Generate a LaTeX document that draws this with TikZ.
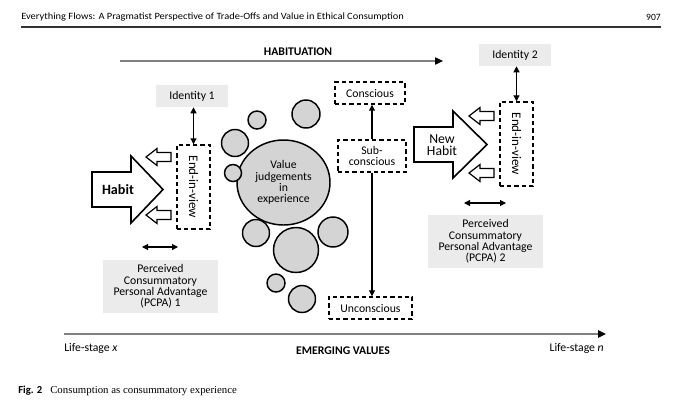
\documentclass[tikz,border=0pt]{standalone}
\usepackage{graphicx}
\usepackage{fontspec}
\setmainfont{Carlito}
\newfontfamily\serifcap{Liberation Serif}
\usetikzlibrary{arrows.meta,shapes.geometric}
\definecolor{boxgray}{HTML}{EBEBEB}
\definecolor{circgray}{HTML}{D4D4D4}
\definecolor{linegray}{HTML}{808080}
\begin{document}
\begin{tikzpicture}[x=0.75pt,y=-0.75pt,
  txt/.style={font=\fontsize{8.8}{8.4}\selectfont},
  graybox/.style={txt, fill=boxgray, draw=none, inner sep=0pt, align=center},
  dbox/.style={draw, line width=1.1pt, dash pattern=on 3.2pt off 2.2pt, inner sep=0pt, align=center, txt},
  dbl/.style={{Triangle[length=4.5pt,width=4.5pt]}-{Triangle[length=4.5pt,width=4.5pt]}, line width=0.8pt},
  oneway/.style={-{Triangle[length=4.5pt,width=4.5pt]}, line width=0.8pt},
  bigarrow/.style={draw, line width=1.2pt, fill=white, line join=miter},
  circ/.style={draw, line width=1.1pt, fill=circgray},
  axisline/.style={draw=linegray, line width=1.1pt, -{Triangle[length=6pt,width=5.5pt,color=black]}},
  smallarr/.pic={\draw[line width=0.9pt, fill=white, line join=miter] (0,0) -- (11,-8.5) -- (11,-4.5) -- (25,-4.5) -- (25,4.5) -- (11,4.5) -- (11,8.5) -- cycle;}
]
\useasboundingbox (0,0) rectangle (680,401);

% header
\node[anchor=west, inner sep=0pt] (head) at (21,17) {\resizebox{287pt}{\height}{\fontsize{7.2}{8}\selectfont Everything Flows: A Pragmatist Perspective of Trade-Offs and Value in Ethical Consumption}};
\node[anchor=east, inner sep=0pt] (page) at (661,17) {\fontsize{7.2}{8}\selectfont 907};
\coordinate (rulel) at (21,27);
\coordinate (ruler) at (661,27);
\draw[line width=1.1pt, draw=black!80] (rulel) -- (ruler);

% habituation
\node[font=\bfseries\fontsize{8.8}{9}\selectfont, inner sep=0pt] (hab) at (298,52) {HABITUATION};
\coordinate (hs) at (120,61);
\coordinate (he) at (443,61);
\draw[axisline, line width=0.9pt] (hs) -- (he);

% left side
\node[graybox, minimum width=54pt, minimum height=16.5pt] (id1) at (192,96) {Identity 1};
\node[dbox, minimum width=24.75pt, minimum height=63pt] (eiv1) at (193.5,187) {};
\node[rotate=-90, font=\fontsize{9.8}{10}\selectfont, inner sep=0pt] (eiv1t) at (eiv1.center) {End-in-view};
\draw[dbl] (eiv1.north) -- (eiv1.north |- id1.south);
\draw[bigarrow] (92,172) -- (131,172) -- (131,156) -- (163,189.5) -- (131,223) -- (131,207) -- (92,207) -- cycle;
\node[font=\bfseries\fontsize{10.6}{10}\selectfont, inner sep=0pt] (habit) at (118,189.5) {Habit};
\pic at (146,157) {smallarr};
\pic at (146,215) {smallarr};
\coordinate (l1) at (142,247);
\coordinate (l2) at (178,247);
\draw[dbl] (l1) -- (l2);
\node[graybox, minimum width=86.25pt, minimum height=39.75pt] (pcpa1) at (160.5,286.5) {Perceived\\Consummatory\\Personal Advantage\\(PCPA) 1};

% circles
\node[ellipse, circ, minimum width=69.75pt, minimum height=63.75pt, inner sep=0pt, align=center, txt] (vj) at (283.5,182.5) {Value\\judgements\\in\\experience};
\draw[circ] (306,114) circle[radius=14];
\draw[circ] (257,120) circle[radius=9];
\draw[circ] (235,143) circle[radius=13.5];
\draw[circ] (233,173) circle[radius=8.5];
\draw[circ] (256,233) circle[radius=13.5];
\draw[circ] (296,250) circle[radius=22.5];
\draw[circ] (333,232) circle[radius=15];
\draw[circ] (276,283) circle[radius=9];
\draw[circ] (302,299) circle[radius=13.5];

% consciousness
\node[dbox, minimum width=52.5pt, minimum height=16.5pt] (con) at (370,93) {Conscious};
\node[dbox, minimum width=51pt, minimum height=24pt] (sub) at (372,156) {Sub-\\conscious};
\node[dbox, minimum width=62.25pt, minimum height=16.5pt] (uncon) at (370.5,308) {Unconscious};
\draw[oneway] (sub.north) -- (sub.north |- con.south);
\draw[oneway] (sub.south) -- (sub.south |- uncon.north);

% right side
\node[graybox, minimum width=54pt, minimum height=16.5pt] (id2) at (515,55) {Identity 2};
\node[dbox, minimum width=24.75pt, minimum height=63pt] (eiv2) at (516.5,144) {};
\node[rotate=-90, font=\fontsize{9.8}{10}\selectfont, inner sep=0pt] (eiv2t) at (eiv2.center) {End-in-view};
\draw[dbl] (eiv2.north) -- (eiv2.north |- id2.south);
\draw[bigarrow] (414,127) -- (453,127) -- (453,111) -- (487,144.5) -- (453,178) -- (453,162) -- (414,162) -- cycle;
\node[align=center, font=\fontsize{10.3}{9.3}\selectfont, inner sep=0pt] (newhabit) at (442,145) {New\\Habit};
\pic at (469,116) {smallarr};
\pic at (469,173) {smallarr};
\coordinate (r1) at (464,203);
\coordinate (r2) at (506,203);
\draw[dbl] (r1) -- (r2);
\node[graybox, minimum width=86.25pt, minimum height=39.75pt] (pcpa2) at (485.5,241.5) {Perceived\\Consummatory\\Personal Advantage\\(PCPA) 2};

% axis
\coordinate (axs) at (64,334);
\coordinate (axe) at (606,334);
\draw[axisline] (axs) -- (axe);
\node[anchor=west, inner sep=0pt, txt] (lsx) at (64,348) {Life-stage \textit{x}};
\node[anchor=east, inner sep=0pt, txt] (lsn) at (604,348) {Life-stage \textit{n}};
\node[font=\bfseries\fontsize{8.8}{9}\selectfont, inner sep=0pt] (ev) at (343,351) {EMERGING VALUES};

% caption
\node[anchor=west, inner sep=0pt, font=\bfseries\fontsize{8}{9}\selectfont] (fig) at (18,391) {Fig. 2};
\node[anchor=west, inner sep=0pt] (cap) at (50,391) {\resizebox{140pt}{\height}{\serifcap\fontsize{8}{9}\selectfont Consumption as consummatory experience}};
\end{tikzpicture}
\end{document}
